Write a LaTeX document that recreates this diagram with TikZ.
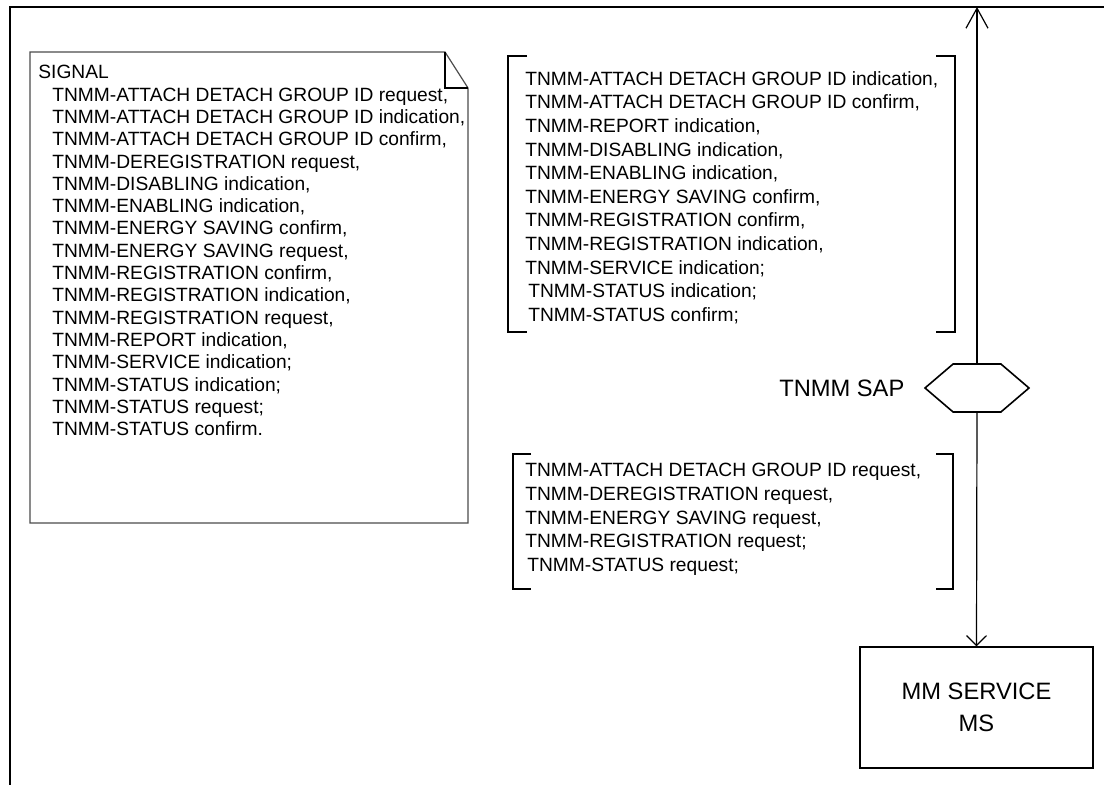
\documentclass[tikz,border=0pt]{standalone}
\usepackage{fontspec}
\setmainfont{Liberation Sans}
\usetikzlibrary{arrows.meta,positioning,shapes.symbols}

\begin{document}
\begin{tikzpicture}[x=0.5pt,y=-0.5pt,
        lista/.style={anchor=north west, inner sep=0pt, align=left, font=\fontsize{9.6}{#1}\selectfont},
        lista/.default=11.8,
        rotulo/.style={font=\fontsize{11.85}{16}\selectfont},
        colchete/.style={line width=0.9pt},
        seta/.style={line width=0.6pt}]
        \useasboundingbox (0,0) rectangle (1104,785);

        % Moldura
        \draw[line width=1pt] (1104,7) -- (10,7) -- (10,785);

        % Nota com os sinais
        \draw[line width=0.6pt, draw=black!70] (30,52) -- (445,52) -- (468,88) -- (468,523) -- (30,523) -- cycle;
        \draw[line width=0.6pt] (445,52) -- (445,88) -- (468,88);
        \node[lista=11.15] (sinais) at (38,65) {SIGNAL\\
            \hspace*{7pt}TNMM-ATTACH DETACH GROUP ID request,\\
            \hspace*{7pt}TNMM-ATTACH DETACH GROUP ID indication,\\
            \hspace*{7pt}TNMM-ATTACH DETACH GROUP ID confirm,\\
            \hspace*{7pt}TNMM-DEREGISTRATION request,\\
            \hspace*{7pt}TNMM-DISABLING indication,\\
            \hspace*{7pt}TNMM-ENABLING indication,\\
            \hspace*{7pt}TNMM-ENERGY SAVING confirm,\\
            \hspace*{7pt}TNMM-ENERGY SAVING request,\\
            \hspace*{7pt}TNMM-REGISTRATION confirm,\\
            \hspace*{7pt}TNMM-REGISTRATION indication,\\
            \hspace*{7pt}TNMM-REGISTRATION request,\\
            \hspace*{7pt}TNMM-REPORT indication,\\
            \hspace*{7pt}TNMM-SERVICE indication;\\
            \hspace*{7pt}TNMM-STATUS indication;\\
            \hspace*{7pt}TNMM-STATUS request;\\
            \hspace*{7pt}TNMM-STATUS confirm.};

        % Sinais para cima
        \draw[colchete] (527,56) -- (508,56) -- (508,332) -- (527,332);
        \draw[colchete] (936,56) -- (955,56) -- (955,332) -- (936,332);
        \node[lista] (cima) at (525,71) {TNMM-ATTACH DETACH GROUP ID indication,\\
            TNMM-ATTACH DETACH GROUP ID confirm,\\
            TNMM-REPORT indication,\\
            TNMM-DISABLING indication,\\
            TNMM-ENABLING indication,\\
            TNMM-ENERGY SAVING confirm,\\
            TNMM-REGISTRATION confirm,\\
            TNMM-REGISTRATION indication,\\
            TNMM-SERVICE indication;\\
            \hspace*{1.5pt}TNMM-STATUS indication;\\
            \hspace*{1.5pt}TNMM-STATUS confirm;};

        % Sinais para baixo
        \draw[colchete] (531,454) -- (513,454) -- (513,589) -- (531,589);
        \draw[colchete] (936,454) -- (953,454) -- (953,589) -- (936,589);
        \node[lista] (baixo) at (525,463) {TNMM-ATTACH DETACH GROUP ID request,\\
            TNMM-DEREGISTRATION request,\\
            TNMM-ENERGY SAVING request,\\
            TNMM-REGISTRATION request;\\
            \hspace*{1pt}TNMM-STATUS request;};

        % SAP e bloco MM
        \node[shape=signal, signal to=east and west, signal pointer angle=81, draw, fill=white, line width=0.8pt,
            minimum width=52pt, minimum height=24pt, inner sep=0pt] (sap) at (977,388) {};
        \node[rotulo, inner sep=0pt, left=9.5pt of sap] (saplabel) {TNMM SAP};
        \node[draw, line width=0.6pt, rotulo, align=center, minimum width=116.5pt, minimum height=60.5pt] (ms) at (976.5,707.5) {MM SERVICE\\MS};

        % Ligacoes
        \coordinate (topo) at (977,7);
        \draw[seta, -{Straight Barb[length=10pt,width=11pt]}] (sap.north) -- (topo);
        \draw[seta, -{Straight Barb[length=5pt,width=10pt]}] (sap.south) -- (ms.north);
\end{tikzpicture}
\end{document}
